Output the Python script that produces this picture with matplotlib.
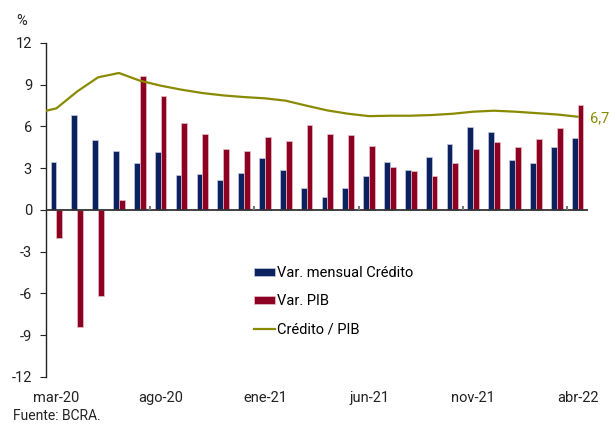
import matplotlib
matplotlib.use("Agg")
import matplotlib.pyplot as plt
import numpy as np

plt.rcParams['font.family'] = ['Roboto', 'DejaVu Sans']

# months mar-20 .. abr-22
months = ["mar-20", "abr-20", "may-20", "jun-20", "jul-20", "ago-20", "sep-20", "oct-20",
          "nov-20", "dic-20", "ene-21", "feb-21", "mar-21", "abr-21", "may-21", "jun-21",
          "jul-21", "ago-21", "sep-21", "oct-21", "nov-21", "dic-21", "ene-22", "feb-22",
          "mar-22", "abr-22"]
credito = [3.41, 6.82, 5.04, 4.20, 3.36, 4.13, 2.50, 2.57, 2.18, 2.62, 3.72, 2.86, 1.56,
           0.96, 1.56, 2.47, 3.41, 2.86, 3.79, 4.73, 5.93, 5.59, 3.60, 3.34, 4.49, 5.18]
pib = [-2.04, -8.40, -6.20, 0.72, 9.65, 8.16, 6.24, 5.47, 4.39, 4.25, 5.26, 4.97, 6.07,
       5.45, 5.40, 4.63, 3.12, 2.83, 2.45, 3.36, 4.39, 4.85, 4.51, 5.11, 5.86, 7.56]
# ratio starts one month earlier (feb-20)
ratio = [6.95, 7.30, 8.52, 9.53, 9.84, 9.29, 8.93, 8.64, 8.40, 8.23, 8.11, 8.02, 7.85,
         7.49, 7.15, 6.91, 6.74, 6.77, 6.77, 6.82, 6.91, 7.06, 7.13, 7.06, 6.96, 6.86, 6.70]
yticks = [-12, -9, -6, -3, 0, 3, 6, 9, 12]

blue = '#0b2160'
red = '#8e0022'
olive = '#8a8a00'

fig = plt.figure(figsize=(6.11, 4.25), dpi=100)
ax = fig.add_axes([0.0753, 0.113, 0.887, 0.786])

x = np.arange(len(months))
w = 0.28
b1 = ax.bar(x - w / 2, credito, w, color=blue, edgecolor='#c5cbe0', linewidth=0.5,
            label='Var. mensual Crédito', zorder=2)
b2 = ax.bar(x + w / 2, pib, w, color=red, edgecolor='#e8c0c8', linewidth=0.5,
            label='Var. PIB', zorder=2)
xr = np.arange(len(ratio)) - 1
l1, = ax.plot(xr, ratio, color=olive, lw=1.6, label='Crédito / PIB', zorder=3)
ax.text(x[-1] + 0.6, ratio[-1] - 0.1, f"{ratio[-1]:.1f}".replace('.', ','),
        color=olive, fontsize=10.5, va='center', ha='left')

ax.set_xlim(-0.5, len(months) - 0.5)
ax.set_ylim(-12, 12)
ax.set_yticks(yticks)
ax.set_yticklabels([str(v) for v in yticks])
ax.tick_params(axis='y', length=4, width=0.8, labelsize=10.5, colors='#222222', pad=6)

for s in ['top', 'right', 'bottom']:
    ax.spines[s].set_visible(False)
ax.spines['left'].set_linewidth(1.0)
ax.spines['left'].set_color('#222222')

ax.set_xticks(x[::5])
ax.set_xticklabels(months[::5])
ax.tick_params(axis='x', length=0, labelsize=10.5, colors='#222222', pad=10)

# zero line with small upward ticks between categories
ax.axhline(0, color='#333333', lw=1.3, zorder=4)
ax.vlines(x[4::5] + 0.5, 0, 0.3, color='#777777', lw=1.5, zorder=4)

fig.text(0.035, 0.95, "%", fontsize=10.5, color='#222222', ha='center', va='center')
fig.text(0.022, 0.022, "Fuente: BCRA.", fontsize=10, color='#222222', ha='left', va='center')

leg = ax.legend([b1, b2, l1], ['Var. mensual Crédito', 'Var. PIB', 'Crédito / PIB'],
                loc='lower left', bbox_to_anchor=(0.36, 0.083), frameon=False,
                fontsize=10.5, handlelength=1.4, handleheight=0.45, handletextpad=0.15,
                labelspacing=0.95)

fig.savefig("out.png", dpi=100)
